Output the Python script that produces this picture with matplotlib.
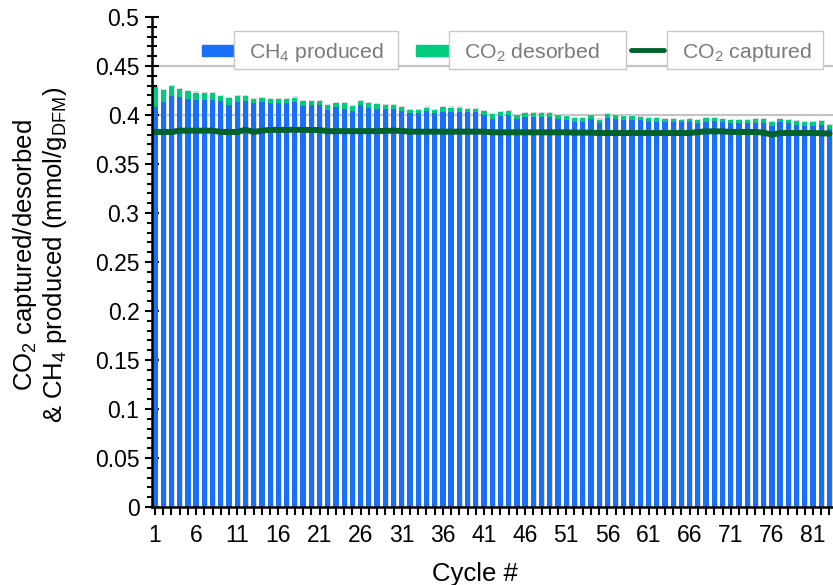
import matplotlib
matplotlib.use("Agg")
import matplotlib.pyplot as plt
from matplotlib.patches import Rectangle
from matplotlib.lines import Line2D
from matplotlib.ticker import MultipleLocator, FixedLocator, FuncFormatter
import numpy as np

plt.rcParams["font.family"] = ["Liberation Sans", "DejaVu Sans"]
plt.rcParams["mathtext.fontset"] = "custom"
plt.rcParams["mathtext.rm"] = "Liberation Sans"
plt.rcParams["mathtext.it"] = "Liberation Sans:italic"
plt.rcParams["mathtext.bf"] = "Liberation Sans:bold"

# ---- data (mmol per g of DFM) ----
cycles = list(range(1, 84))

ch4_produced = [
    0.4085, 0.4130, 0.4197, 0.4184, 0.4163, 0.4156, 0.4156, 0.4156, 0.4140, 0.4105,
    0.4133, 0.4140, 0.4122, 0.4133, 0.4122, 0.4122, 0.4122, 0.4133, 0.4095, 0.4105,
    0.4105, 0.4054, 0.4082, 0.4065, 0.4044, 0.4102, 0.4075, 0.4061, 0.4061, 0.4061,
    0.4044, 0.4017, 0.4017, 0.4037, 0.4017, 0.4034, 0.4034, 0.4027, 0.4027, 0.4027,
    0.4000, 0.3963, 0.3993, 0.4000, 0.3961, 0.3980, 0.3980, 0.3980, 0.3980, 0.3959,
    0.3952, 0.3929, 0.3932, 0.3959, 0.3920, 0.3973, 0.3956, 0.3953, 0.3949, 0.3949,
    0.3939, 0.3929, 0.3925, 0.3925, 0.3925, 0.3925, 0.3918, 0.3932, 0.3935, 0.3932,
    0.3922, 0.3915, 0.3915, 0.3922, 0.3922, 0.3891, 0.3925, 0.3915, 0.3901, 0.3891,
    0.3891, 0.3901, 0.3857,
]

co2_desorbed = [
    0.0201, 0.0125, 0.0099, 0.0081, 0.0085, 0.0072, 0.0065, 0.0065, 0.0054, 0.0068,
    0.0061, 0.0054, 0.0044, 0.0040, 0.0044, 0.0044, 0.0044, 0.0044, 0.0045, 0.0041,
    0.0041, 0.0048, 0.0040, 0.0057, 0.0045, 0.0037, 0.0047, 0.0048, 0.0041, 0.0041,
    0.0038, 0.0037, 0.0037, 0.0038, 0.0037, 0.0048, 0.0041, 0.0048, 0.0034, 0.0031,
    0.0037, 0.0047, 0.0036, 0.0037, 0.0041, 0.0038, 0.0038, 0.0038, 0.0038, 0.0040,
    0.0038, 0.0040, 0.0037, 0.0038, 0.0034, 0.0037, 0.0041, 0.0037, 0.0041, 0.0027,
    0.0030, 0.0037, 0.0034, 0.0034, 0.0027, 0.0034, 0.0034, 0.0037, 0.0034, 0.0027,
    0.0030, 0.0037, 0.0031, 0.0037, 0.0037, 0.0034, 0.0031, 0.0034, 0.0035, 0.0034,
    0.0034, 0.0035, 0.0044,
]

co2_captured = [
    0.3827, 0.3827, 0.3827, 0.3840, 0.3840, 0.3840, 0.3840, 0.3840, 0.3827, 0.3827,
    0.3827, 0.3850, 0.3827, 0.3840, 0.3848, 0.3848, 0.3848, 0.3850, 0.3848, 0.3848,
    0.3846, 0.3835, 0.3835, 0.3835, 0.3835, 0.3835, 0.3835, 0.3835, 0.3838, 0.3840,
    0.3838, 0.3830, 0.3830, 0.3830, 0.3830, 0.3830, 0.3830, 0.3830, 0.3830, 0.3830,
    0.3830, 0.3823, 0.3823, 0.3823, 0.3823, 0.3823, 0.3823, 0.3823, 0.3823, 0.3823,
    0.3823, 0.3820, 0.3820, 0.3820, 0.3816, 0.3816, 0.3816, 0.3816, 0.3816, 0.3816,
    0.3816, 0.3816, 0.3816, 0.3816, 0.3816, 0.3816, 0.3826, 0.3833, 0.3833, 0.3833,
    0.3827, 0.3827, 0.3827, 0.3827, 0.3820, 0.3800, 0.3816, 0.3816, 0.3816, 0.3816,
    0.3816, 0.3814, 0.3810,
]

xtick_labels = list(range(1, 82, 5))

legend_labels = ["CH$_4$ produced", "CO$_2$ desorbed", "CO$_2$ captured"]

# ---- styling ----
BLUE = "#1a6ff7"
GREEN = "#00cc80"
DARK = "#00632b"
SHADOW = "#d9d9d9"
GRID = "#c4c4c4"

W, H = 833, 585
AX_L, AX_B, AX_T = 152, 507, 17
fig = plt.figure(figsize=(W / 100, H / 100), dpi=100)
ax = fig.add_axes([AX_L / W, 1 - AX_B / H, 1 - AX_L / W, (AX_B - AX_T) / H])
ax_w, ax_h = W - AX_L, AX_B - AX_T

x = np.array(cycles, dtype=float)
ch4 = np.array(ch4_produced)
des = np.array(co2_desorbed)
total = ch4 + des

bw = 0.64
# soft drop shadow behind each stacked bar
ax.bar(x + 0.09, total + 0.0012, width=bw, color=SHADOW, zorder=1, linewidth=0)
ax.bar(x, ch4, width=bw, color=BLUE, zorder=2, linewidth=0)
ax.bar(x, des, width=bw, bottom=ch4, color=GREEN, zorder=2, linewidth=0)
ax.plot(x, co2_captured, color=DARK, lw=4.3, zorder=3, solid_capstyle="round")

ax.set_xlim(1 + (152 - 155) / 8.225, 1 + (833 - 155) / 8.225)
ax.set_ylim(0, 0.5)

# horizontal gridlines in the open area above the bars
for yv in (0.40, 0.45):
    ax.axhline(yv, color=GRID, lw=1.6, zorder=0.5)

for side in ("top", "right"):
    ax.spines[side].set_visible(False)
for side in ("left", "bottom"):
    ax.spines[side].set_linewidth(1.8)
    ax.spines[side].set_zorder(5)

ax.yaxis.set_major_locator(MultipleLocator(0.05))
ax.yaxis.set_minor_locator(MultipleLocator(0.01))
ax.yaxis.set_major_formatter(FuncFormatter(lambda v, p: f"{v:.2f}".rstrip("0").rstrip(".") if v else "0"))
ax.xaxis.set_major_locator(FixedLocator(xtick_labels))
ax.xaxis.set_minor_locator(MultipleLocator(1))
ax.set_xticklabels([str(v) for v in xtick_labels])

ax.tick_params(axis="y", which="major", direction="inout", length=10, width=1.5, labelsize=16.5, pad=4)
ax.tick_params(axis="y", which="minor", direction="inout", length=7, width=1.5)
ax.tick_params(axis="x", which="both", direction="inout", length=12, width=1.5, labelsize=16.5, pad=6)

ax.set_xlabel("Cycle #", fontsize=18.5)
ax.xaxis.set_label_coords((475 - AX_L) / ax_w, (AX_B - 562) / ax_h)
ax.set_ylabel("CO$_2$ captured/desorbed\n& CH$_4$ produced (mmol/g$_\\mathrm{DFM}$)",
              fontsize=18.5, linespacing=1.1)
ax.yaxis.set_label_coords((69 - AX_L) / ax_w, (AX_B - 255) / ax_h)

# ---- legend: handle followed by a framed label box ----
def fx(px):
    return px / W

def fy(py):
    return 1 - py / H

legend_items = [
    (legend_labels[0], "bar", BLUE, 202, 234, 398),
    (legend_labels[1], "bar", GREEN, 416, 449, 626),
    (legend_labels[2], "line", DARK, 628, 667, 823),
]
for label, kind, color, h0, b0, b1 in legend_items:
    if kind == "bar":
        fig.patches.append(Rectangle((fx(h0), fy(56)), fx(b0) - fx(h0), fy(45) - fy(56),
                                     transform=fig.transFigure, color=color, zorder=6))
    else:
        fig.lines.append(Line2D([fx(h0 + 3), fx(b0 - 3)], [fy(50), fy(50)], color=color, lw=3.5,
                                solid_capstyle="round", transform=fig.transFigure, zorder=6))
    fig.patches.append(Rectangle((fx(b0), fy(69)), fx(b1) - fx(b0), fy(31) - fy(69),
                                 transform=fig.transFigure, facecolor="white",
                                 edgecolor="#c8c8c8", lw=1.0, zorder=6))
    fig.text(fx(b0 + 15), fy(50), label, color="#7a7a7a", fontsize=15.3,
             ha="left", va="center_baseline", zorder=7)

fig.savefig("out.png", dpi=100)
